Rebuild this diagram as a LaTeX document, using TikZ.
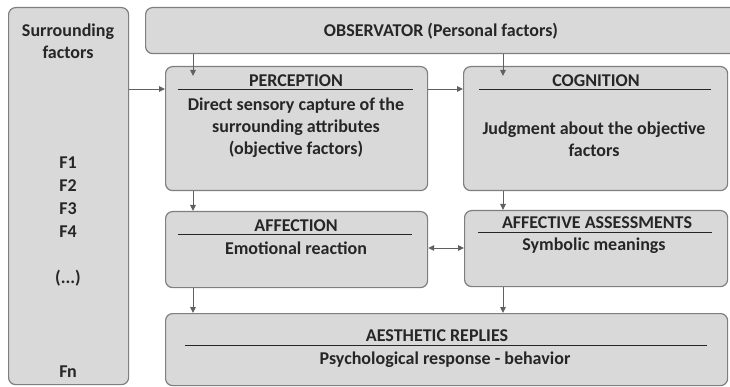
\documentclass[tikz,border=0pt]{standalone}
\usepackage{fontspec}
\setmainfont{Carlito}
\usetikzlibrary{arrows.meta}
\definecolor{boxfill}{HTML}{D9D9D9}
\definecolor{boxline}{HTML}{7F7F7F}
\definecolor{txt}{HTML}{262626}
\definecolor{arrcol}{HTML}{606060}
\begin{document}
\begin{tikzpicture}[x=1pt,y=-1pt,
 box/.style={draw=boxline, fill=boxfill, rounded corners=7pt, line width=1.2pt, inner sep=0pt, anchor=north west},
 lbl/.style={text=txt, font=\bfseries\fontsize{18}{22}\selectfont, inner sep=0pt, align=center},
 arr/.style={draw=arrcol, line width=0.9pt, -{Triangle[length=6pt,width=5.5pt]}},
 darr/.style={draw=arrcol, line width=0.9pt, {Triangle[length=6pt,width=5.5pt]}-{Triangle[length=6pt,width=5.5pt]}},
 uline/.style={draw=black!85, line width=1pt}]
\useasboundingbox[fill=white] (0,0) rectangle (730,387);
% boxes
\node[box, minimum width=120pt, minimum height=377pt] (sur) at (8,7) {};
\node[box, minimum width=592pt, minimum height=46pt] (obs) at (145,7) {};
\node[box, minimum width=262pt, minimum height=124pt] (perc) at (165,66) {};
\node[box, minimum width=264pt, minimum height=124pt] (cog) at (463,66) {};
\node[box, minimum width=262pt, minimum height=76pt] (aff) at (165,211) {};
\node[box, minimum width=263pt, minimum height=76pt] (ass) at (464,210) {};
\node[box, minimum width=562pt, minimum height=72pt] (aes) at (165,313) {};
% left texts
\node[lbl] (t1) at (68,41) {Surrounding\\factors};
\node[lbl] (f1) at (68,163) {F1};
\node[lbl] (f2) at (68,186) {F2};
\node[lbl] (f3) at (68,209) {F3};
\node[lbl] (f4) at (68,232) {F4};
\node[lbl] (fd) at (68,278) {(...)};
\node[lbl] (fn) at (68,372) {Fn};
% observator
\node[lbl] (t2) at (441,31) {OBSERVATOR (Personal factors)};
% perception
\node[lbl] (t3) at (296,81) {PERCEPTION};
\draw[uline] (178,90) coordinate (u1a) -- (413,90) coordinate (u1b);
\node[lbl] (t4) at (296,128) {Direct sensory capture of the\\surrounding attributes\\(objective factors)};
% cognition
\node[lbl] (t5) at (596,81) {COGNITION};
\draw[uline] (479,90) coordinate (u2a) -- (711,90) coordinate (u2b);
\node[lbl] (t6) at (594,139) {Judgment about the objective\\factors};
% affection
\node[lbl] (t7) at (296,226) {AFFECTION};
\draw[uline] (178,235) coordinate (u3a) -- (412,235) coordinate (u3b);
\node[lbl] (t8) at (296,248) {Emotional reaction};
% affective assessments
\node[lbl] (t9) at (597,223) {AFFECTIVE ASSESSMENTS};
\draw[uline] (478,233) coordinate (u4a) -- (712,233) coordinate (u4b);
\node[lbl] (t10) at (594,246) {Symbolic meanings};
% aesthetic replies
\node[lbl] (t11) at (437,336) {AESTHETIC REPLIES};
\draw[uline] (185,345) coordinate (u5a) -- (707,345) coordinate (u5b);
\node[lbl] (t12) at (445,360) {Psychological response - behavior};
% connector helpers
\coordinate (xa) at (193,0);
\coordinate (xb) at (503,0);
\coordinate (ya) at (0,89);
\coordinate (yb) at (0,248);
% arrows
\draw[arr] (obs.south -| xa) -- ([yshift=-10pt]perc.north -| xa);
\draw[arr] (obs.south -| xb) -- ([yshift=-10pt]cog.north -| xb);
\draw[arr] (sur.east |- ya) -- (perc.west |- ya);
\draw[arr] (perc.east |- ya) -- (cog.west |- ya);
\draw[arr] (perc.south -| xa) -- (aff.north -| xa);
\draw[arr] (cog.south -| xb) -- (ass.north -| xb);
\draw[darr] (aff.east |- yb) -- (ass.west |- yb);
\draw[arr] (aff.south -| xa) -- (aes.north -| xa);
\draw[arr] (ass.south -| xb) -- (aes.north -| xb);
\end{tikzpicture}
\end{document}
